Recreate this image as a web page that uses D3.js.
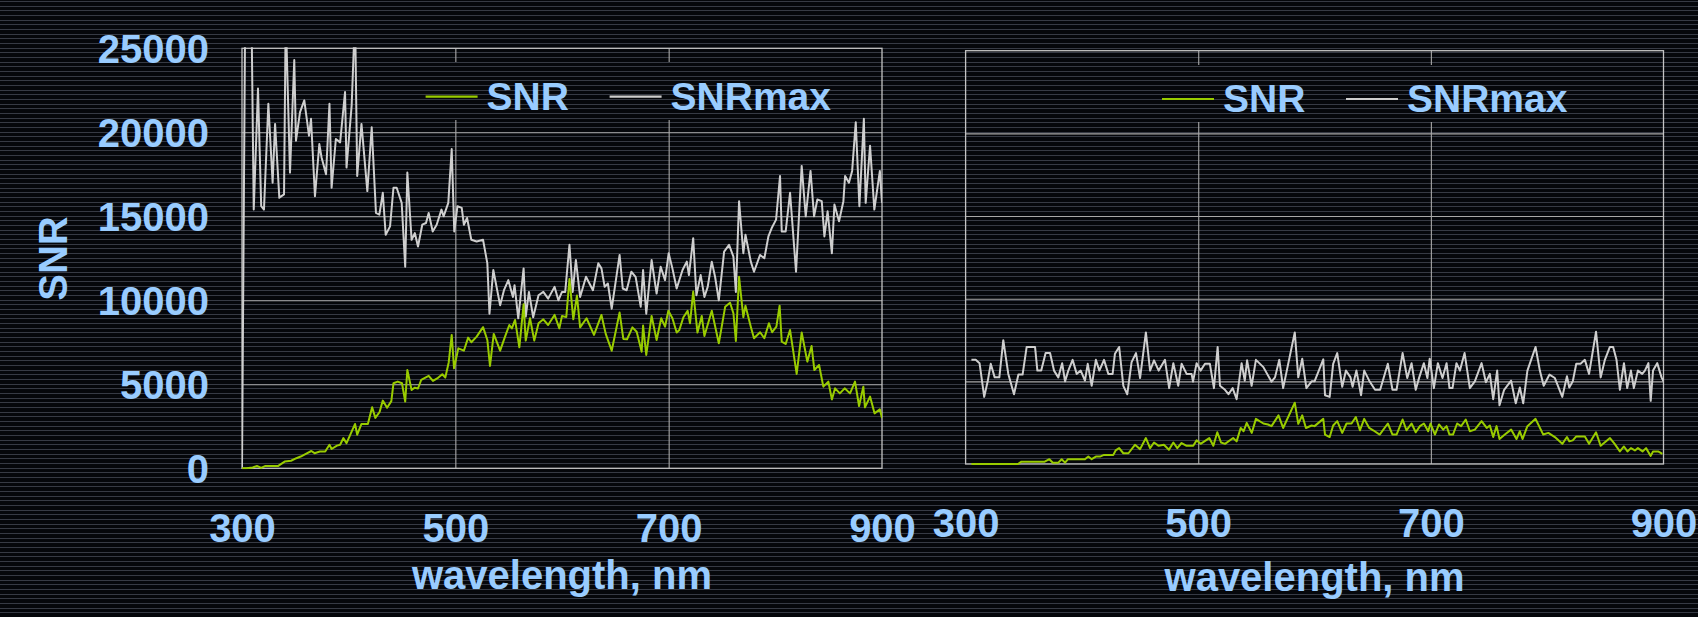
<!DOCTYPE html>
<html>

<head>
  <meta charset="utf-8" />
  <title>SNR vs wavelength</title>
  <style>
    body {
      margin: 0;
      background: #05070b;
      overflow: hidden;
    }

    svg {
      display: block;
    }

    text {
      font-family: "Liberation Sans", Arial, sans-serif;
      font-weight: bold;
      fill: #99ccff;
    }

    .tick-label {
      font-size: 40px;
    }

    .legend-label {
      font-size: 39px;
    }
  </style>
</head>

<body>
  <svg id="svg" width="1698" height="617"></svg>

  <script src="https://d3js.org/d3.v7.min.js"></script>
  <script>
    // ticks + labels
    const wavelengthTicks = [300, 500, 700, 900]
    const wavelengthGrid = [500, 700]
    const snrTicks = [0, 5000, 10000, 15000, 20000, 25000]
    const snrGrid = [5000, 10000, 15000, 20000]
    const seriesNames = ['SNR', 'SNRmax']
    const xTitle = 'wavelength, nm'
    const yTitle = 'SNR'

    // left panel, [wavelength nm, value]
    const leftSnr = [
      [300, 0], [304, 0], [310, 50], [314, 140], [318, 30], [322, 140], [334, 140], [340, 400], [346, 450],
      [351, 600], [355, 700], [359, 830], [365, 1030], [368, 900], [373, 1000], [378, 1000], [382, 1400],
      [384, 1150], [389, 1350], [392, 1400], [395, 1800], [398, 1500], [406, 2640], [408, 2000], [412, 2640],
      [418, 2640], [422, 3630], [425, 3000], [429, 3350], [432, 4030], [436, 3600], [440, 4000], [442, 5060],
      [446, 5160], [450, 5060], [453, 3970], [455, 5850], [459, 4660], [462, 4800], [465, 4750], [468, 5260],
      [475, 5500], [479, 5200], [483, 5350], [487.8, 5600], [490.6, 5400], [493.8, 6300], [496.6, 7940],
      [498.8, 5950], [502.8, 7140], [508, 7000], [512, 7780], [515, 7500], [520, 7840], [526, 8400],
      [530, 7640], [532.5, 6090], [536, 8000], [542, 7000], [546.6, 7840], [550.6, 8530], [553, 8330],
      [556, 8830], [560, 7200], [564, 9760], [566, 7600], [570, 8930], [574, 7600], [578, 8630], [582.5, 8870],
      [587, 8530], [593, 9130], [597.5, 8330], [600, 9070], [604, 9000], [607, 11270], [610.6, 8870],
      [614, 10280], [617, 8390], [623, 8930], [630, 7940], [637, 9130], [641, 8000], [646.6, 7000], [654, 9270],
      [657.5, 7700], [661, 7680], [666, 8390], [670, 8130], [674.7, 6940], [676, 8500], [679, 6750], [684, 9070],
      [688.7, 7640], [693, 8930], [696.6, 8430], [699.7, 9380], [703.5, 8930], [707.5, 8080], [710, 8230],
      [713.8, 8990], [717.8, 9370], [720, 8630], [723, 10520], [727, 8080], [731, 9070], [733.5, 7880],
      [740.4, 9380], [747, 7440], [753, 9620], [757.5, 9860], [760.7, 9230], [763, 7580], [766, 11400],
      [770, 8990], [772, 9680], [777, 8430], [780, 7740], [785.7, 8100], [789.7, 7740], [794, 8630], [797, 8100],
      [801, 8430], [804, 9680], [806, 7540], [809.7, 7400], [813.8, 8230], [820, 5620], [824.7, 8080],
      [830, 6350], [834, 7280], [836.6, 5850], [841, 6150], [845, 4860], [849.7, 5160], [853, 4100], [856, 4760],
      [860.5, 4460], [865, 4760], [870, 4460], [874.7, 5160], [878.5, 3710], [882.5, 4860], [884, 3630],
      [888.8, 4270], [893, 3270], [898, 3510], [900, 3000]
    ]

    const leftSnrMax = [
      [300, 0], [303.5, 32000], [308, 32000], [311, 15400], [315, 22600], [318, 15600], [320.6, 15400],
      [324.7, 21700], [328.7, 17000], [331, 20500], [335, 16100], [337, 16200], [339.4, 16300], [341, 27000],
      [345, 17600], [349, 24300], [350.6, 19500], [354.4, 21200], [358.4, 21900], [362.8, 19800], [364.7, 20800],
      [368.4, 16200], [372.5, 19300], [374.6, 18500], [378.8, 17500], [382, 21700], [384, 16700], [388, 19600],
      [392, 19400], [396.6, 22400], [398, 17900], [402.8, 21600], [406, 27000], [408, 17400], [412, 20500],
      [417.5, 16500], [421.6, 20300], [425.6, 15200], [428.8, 15100], [432, 16400], [434.7, 13900],
      [438.8, 14400], [442, 16700], [445, 16700], [449.7, 15800], [453, 12000], [455, 17600], [459, 13600],
      [462, 14000], [465, 13200], [469, 14500], [472.5, 14600], [475, 15200], [478.8, 14100], [482.5, 14500],
      [487, 15400], [489, 15000], [493.4, 15800], [496.6, 19000], [499, 14100], [502, 15600], [506, 15500],
      [508, 14500], [511, 14900], [515, 13600], [520, 13500], [526, 13600], [530, 12200], [532, 9200],
      [535.6, 11800], [542, 9700], [545.6, 10600], [549.7, 11200], [554, 10200], [555.5, 10900], [559, 8930],
      [564, 11900], [566, 9030], [569, 10500], [573, 8990], [578, 10300], [582.5, 10500], [587, 10100],
      [593, 10800], [596.6, 10000], [600, 10500], [603, 10500], [607, 13300], [610, 10500], [613, 12400],
      [617, 10200], [622.5, 11400], [629, 10600], [634, 12200], [637, 11900], [640, 10800], [643, 11000],
      [646.6, 9500], [654, 12700], [657, 10700], [660.6, 10600], [665, 11700], [669, 11400], [673.8, 9620],
      [676, 11800], [679, 9200], [684, 12400], [688.7, 10400], [692.5, 12000], [696.6, 11200], [700, 12800],
      [703.5, 11900], [707.5, 10700], [713, 11800], [717, 12300], [719, 11500], [723, 13700], [726, 10300],
      [730, 11500], [733.5, 10200], [736.6, 10800], [740.4, 12300], [743.5, 11400], [747, 10000], [752, 12900],
      [756.6, 13300], [760.7, 12600], [763, 10500], [766, 15900], [770, 12800], [772, 13900], [777, 12300],
      [780, 11700], [785.7, 12700], [789.7, 12500], [793.5, 13800], [796.6, 14300], [800.7, 14800],
      [804.4, 17400], [806, 14100], [809.7, 14100], [813.8, 16400], [819.4, 11700], [824.7, 18000],
      [828.5, 15000], [833, 17700], [836.3, 15000], [839.4, 16000], [843.5, 15900], [846, 13800], [849, 15300],
      [853, 12800], [855.4, 15700], [859.7, 14700], [863.8, 15900], [865.4, 17400], [869, 17000], [872, 17700],
      [875.4, 20600], [878.8, 15600], [883, 20800], [884.7, 15800], [888.8, 19200], [892.8, 15400],
      [898, 17700], [900, 15800]
    ]

    // right panel, [wavelength nm, value]
    const rightSnr = [
      [305, 0], [345, 0], [348, 140], [368, 140], [372, 290], [375, 80], [379.7, 80], [382.6, 290], [385.5, 80],
      [388, 290], [402.6, 290], [405.5, 450], [408.4, 290], [412, 450], [415.5, 450], [419, 550], [427, 550],
      [429, 820], [432, 960], [435.6, 650], [440, 650], [445.6, 1160], [450, 900], [455, 1570], [458.6, 960],
      [462, 1300], [466, 1100], [470.5, 1160], [474.8, 860], [478.6, 1300], [482, 960], [485.7, 1270],
      [490, 1100], [495.7, 1100], [498.6, 1430], [502, 1220], [509.5, 1570], [513, 1100], [516.4, 1920],
      [519.6, 1300], [523, 1220], [530, 1570], [533, 1370], [536.5, 2180], [539, 1980], [541.7, 2490],
      [546, 1880], [549.6, 2730], [556, 2450], [560, 2390], [563, 2290], [569, 2940], [573, 2180], [583, 3710],
      [586, 2430], [589.4, 2940], [592.6, 2180], [597.5, 2330], [600, 2290], [607.5, 2730], [609, 1780],
      [613, 1630], [616, 2330], [619.5, 2590], [623.8, 1880], [627.5, 2450], [631.8, 2450], [635.5, 2840],
      [639, 2040], [642.7, 2730], [647, 2180], [650.4, 2040], [656, 1780], [663, 2450], [667, 1780],
      [670.5, 1780], [675.7, 2690], [679, 2040], [683.4, 2450], [687, 1920], [690.6, 2290], [694, 2450],
      [697.7, 1980], [699.7, 2450], [703.5, 1780], [707, 2390], [710.6, 2080], [713.5, 2290], [716, 1780],
      [719, 1780], [722.6, 2450], [726, 2290], [730, 2690], [733.5, 1980], [737.8, 2080], [743.6, 2590],
      [748, 2180], [750.7, 2330], [753.6, 1630], [756.5, 2290], [759, 1510], [763.6, 1780], [769, 2080],
      [773.6, 1510], [776.5, 1980], [778.8, 1510], [783, 2290], [790, 2730], [796.6, 1780], [801, 1880],
      [806.6, 1630], [813, 1220], [817, 1630], [819, 1370], [822, 1430], [825, 1670], [832.4, 1670], [836, 1220],
      [842, 1920], [846, 1100], [849.6, 1310], [854, 1570], [858, 1220], [862.5, 760], [866, 1060], [869, 760],
      [872, 960], [875.4, 820], [878, 960], [882, 760], [885, 960], [889, 490], [891, 760], [895.4, 760],
      [899, 610]
    ]

    const rightSnrMax = [
      [305, 6300], [308.7, 6300], [312, 6100], [316, 4060], [319, 5000], [321.6, 6060], [325, 5240],
      [329, 5240], [332.4, 7490], [336.7, 5450], [341.6, 4220], [345.4, 5410], [349, 5410], [352.5, 7080],
      [359.7, 7080], [361.7, 5650], [365, 5650], [368.8, 6710], [372.6, 6710], [376, 5650], [379.7, 5240],
      [383, 6100], [385.5, 5000], [388.3, 5650], [392, 6300], [395.5, 5450], [399, 5650], [402.6, 5040],
      [405, 6060], [408.4, 4730], [412, 6300], [415, 5650], [419, 6300], [422.7, 5450], [426.4, 5450],
      [428.4, 6670], [432, 7080], [435.6, 4730], [439, 4220], [442.7, 6160], [446.5, 6710], [450, 5200],
      [455, 7960], [458.6, 5650], [462, 6270], [466, 5650], [471.4, 6300], [475, 4590], [478.6, 6100],
      [482.8, 4730], [485.7, 6060], [490, 5450], [494.3, 5450], [495.5, 4980], [498.6, 6100], [502, 5650],
      [505.8, 6060], [510, 6060], [513.5, 4590], [516.7, 7080], [518.7, 4730], [523, 4490], [526, 4220],
      [529.6, 4590], [533, 3920], [537.3, 6100], [540, 5040], [542, 6270], [545.9, 4730], [549.6, 6300],
      [556, 5860], [563, 4980], [566, 5240], [569.7, 6300], [573, 4590], [583, 7960], [586, 5240],
      [589.4, 6370], [593, 4590], [597.5, 5000], [600, 5000], [607.5, 6330], [609, 4160], [613, 4060],
      [616, 6060], [619.5, 6710], [623.8, 4670], [627, 5650], [630.9, 5240], [632.7, 4670], [636, 5650],
      [640, 4160], [642.7, 5650], [647, 5040], [652, 4490], [656.4, 4490], [663, 6060], [667, 4490],
      [670.5, 4490], [675.7, 6710], [679.7, 5200], [683.4, 6100], [687, 4490], [690, 5240], [694, 6100],
      [697, 5200], [699, 6370], [702.6, 4590], [706, 6100], [710, 5200], [713.5, 6100], [716, 4590],
      [718.6, 4590], [722, 6100], [725, 5650], [729, 6710], [733.5, 4590], [737.8, 5000], [743.6, 6100],
      [747.3, 4940], [750.7, 5450], [753.6, 3920], [757, 5650], [759, 3550], [763, 4490], [769, 5040],
      [773, 3670], [776.5, 4630], [779.4, 3670], [783, 5650], [790, 7080], [793.7, 5650], [797, 4730],
      [802, 5410], [806.6, 5200], [813, 4060], [817, 5310], [819, 4630], [822, 5000], [825, 6060],
      [828.7, 6060], [832.4, 6300], [836, 5450], [842, 8000], [846, 5240], [849.6, 6300], [853.9, 7080],
      [856.7, 7080], [859.6, 6300], [862.5, 4490], [866, 6100], [868.8, 4590], [872, 5650], [874.5, 4590],
      [878, 5650], [881.7, 5450], [884, 5650], [887, 6100], [889, 3820], [891, 5650], [894.6, 6100],
      [898.3, 5240], [900, 5000]
    ]

    const width = 1698
    const height = 617
    const colors = { snr: '#99cc00', snrMax: '#cfcfcf', grid: '#a9a9a9', frame: '#c4c4c4' }

    const svg = d3.select('#svg')
    const defs = svg.append('defs')

    // scan-line background
    const scan = defs.append('pattern')
      .attr('id', 'scan')
      .attr('patternUnits', 'userSpaceOnUse')
      .attr('width', 10)
      .attr('height', 14)
    scan.append('rect').attr('width', 10).attr('height', 14).attr('fill', '#05070b')
    ;[1, 6, 10].forEach(y => {
      scan.append('rect').attr('y', y).attr('width', 10).attr('height', 1).attr('fill', '#363a44')
    })
    svg.append('rect').attr('width', width).attr('height', height).attr('fill', 'url(#scan)')

    const panels = [
      {
        id: 'left', x0: 242, x1: 882, y0: 468.3, y1: 48.3,
        snr: leftSnr, snrMax: leftSnrMax, yLabels: true,
        tickBaseline: 542, titleBaseline: 589,
        legend: { x: 425.6, y: 96.7, box: [412, 62, 436, 58] }
      },
      {
        id: 'right', x0: 965.6, x1: 1663.5, y0: 464, y1: 50.7,
        snr: rightSnr, snrMax: rightSnrMax, yLabels: false,
        tickBaseline: 537, titleBaseline: 591,
        legend: { x: 1162, y: 99, box: [1150, 65, 436, 57] }
      }
    ]

    panels.forEach(drawPanel)

    // y title
    svg.append('text')
      .attr('class', 'tick-label')
      .attr('transform', 'translate(66.5,258.5) rotate(-90)')
      .attr('text-anchor', 'middle')
      .text(yTitle)

    function drawPanel(p) {
      const x = d3.scaleLinear().domain([300, 900]).range([p.x0, p.x1])
      const y = d3.scaleLinear().domain([0, 25000]).range([p.y0, p.y1])
      const w = p.x1 - p.x0
      const h = p.y0 - p.y1
      const g = svg.append('g').attr('id', p.id)

      // grid
      const hGrid = g.append('g')
        .attr('transform', `translate(${p.x0},0)`)
        .call(d3.axisLeft(y).tickValues(snrGrid).tickSize(-w).tickFormat(''))
      const vGrid = g.append('g')
        .attr('transform', `translate(0,${p.y0})`)
        .call(d3.axisBottom(x).tickValues(wavelengthGrid).tickSize(-h).tickFormat(''))
      ;[hGrid, vGrid].forEach(a => {
        a.select('.domain').remove()
        a.selectAll('line').attr('stroke', colors.grid).attr('stroke-width', 1.1)
      })

      // legend box hides grid behind it
      const lg = p.legend
      g.append('rect')
        .attr('x', lg.box[0]).attr('y', lg.box[1]).attr('width', lg.box[2]).attr('height', lg.box[3])
        .attr('fill', 'url(#scan)')

      // frame
      g.append('rect')
        .attr('x', p.x0).attr('y', p.y1).attr('width', w).attr('height', h)
        .attr('fill', 'none').attr('stroke', colors.frame).attr('stroke-width', 1.3)

      // data
      defs.append('clipPath').attr('id', 'clip-' + p.id)
        .append('rect').attr('x', p.x0).attr('y', p.y1 - 1).attr('width', w).attr('height', h + 2)

      const line = d3.line().x(d => x(d[0])).y(d => y(d[1]))
      const plot = g.append('g').attr('clip-path', `url(#clip-${p.id})`)
      plot.append('path').datum(p.snrMax)
        .attr('d', line).attr('fill', 'none')
        .attr('stroke', colors.snrMax).attr('stroke-width', 2).attr('stroke-linejoin', 'round')
      plot.append('path').datum(p.snr)
        .attr('d', line).attr('fill', 'none')
        .attr('stroke', colors.snr).attr('stroke-width', 2).attr('stroke-linejoin', 'round')

      // legend entries
      const items = [
        { name: seriesNames[0], color: colors.snr, dx: 0 },
        { name: seriesNames[1], color: colors.snrMax, dx: 184 }
      ]
      items.forEach(it => {
        g.append('line')
          .attr('x1', lg.x + it.dx).attr('x2', lg.x + it.dx + 52)
          .attr('y1', lg.y).attr('y2', lg.y)
          .attr('stroke', it.color).attr('stroke-width', 2.2)
        g.append('text')
          .attr('class', 'legend-label')
          .attr('x', lg.x + it.dx + 61)
          .attr('y', lg.y + 13)
          .text(it.name)
      })

      // x tick labels
      const xAxis = g.append('g')
        .attr('transform', `translate(0,${p.y0})`)
        .call(d3.axisBottom(x).tickValues(wavelengthTicks).tickSize(0).tickFormat(d3.format('d')))
      xAxis.select('.domain').remove()
      xAxis.attr('font-size', null).attr('font-family', null)
      xAxis.selectAll('text')
        .attr('class', 'tick-label')
        .attr('y', p.tickBaseline - p.y0)
        .attr('dy', null)

      // y tick labels
      if (p.yLabels) {
        const yAxis = g.append('g')
          .attr('transform', `translate(${p.x0},0)`)
          .call(d3.axisLeft(y).tickValues(snrTicks).tickSize(0).tickPadding(p.x0 - 209).tickFormat(d3.format('d')))
        yAxis.select('.domain').remove()
        yAxis.attr('font-size', null).attr('font-family', null)
        yAxis.selectAll('text').attr('class', 'tick-label').attr('dy', '0.36em')
      }

      // x title
      g.append('text')
        .attr('class', 'tick-label')
        .attr('x', (p.x0 + p.x1) / 2)
        .attr('y', p.titleBaseline)
        .attr('text-anchor', 'middle')
        .text(xTitle)
    }
  </script>
</body>

</html>
